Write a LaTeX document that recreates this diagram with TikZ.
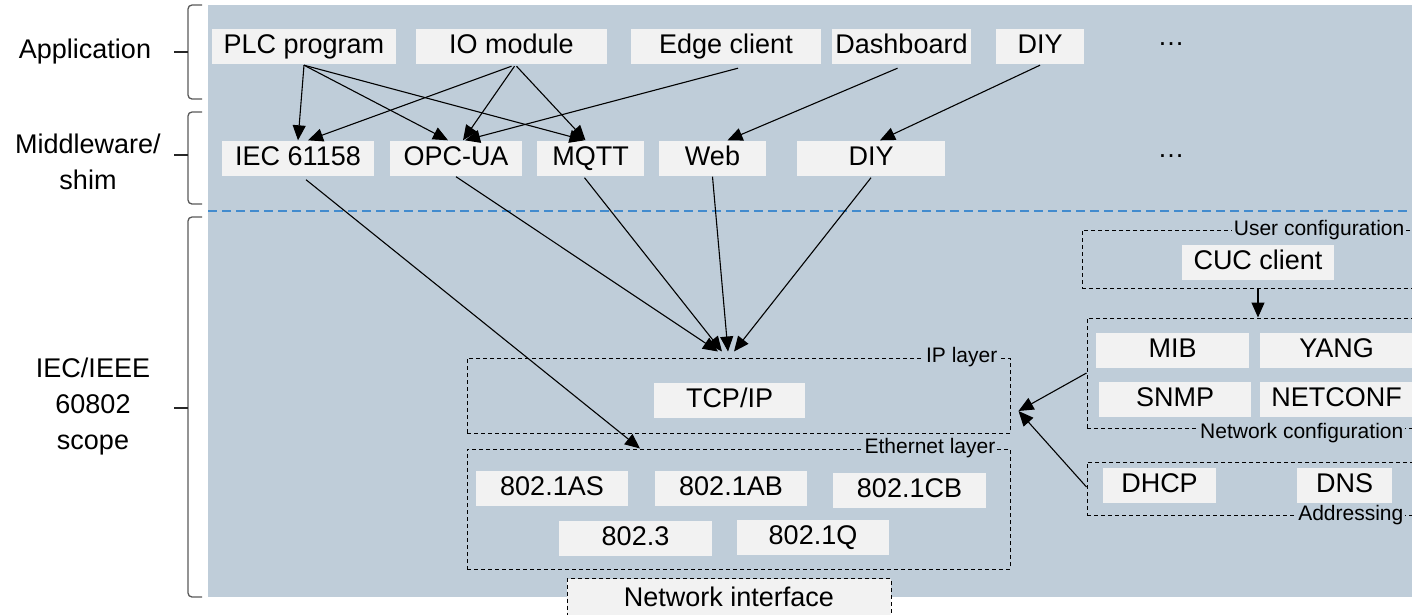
\documentclass[tikz,border=0pt]{standalone}
\usepackage{fontspec}
\setmainfont{Liberation Sans}
\usepackage{tikz}
\usetikzlibrary{arrows.meta,positioning}
\definecolor{bgblue}{RGB}{191,205,217}
\definecolor{boxgray}{RGB}{242,242,242}
\definecolor{lineblue}{RGB}{66,139,206}

\begin{document}
\begin{tikzpicture}[x=1pt,y=-1pt,
            stdbox/.style={fill=boxgray,inner sep=0pt,minimum height=35pt,text height=20pt,text depth=6pt,font=\fontsize{27pt}{32pt}\selectfont},
            grp/.style={draw,dash pattern=on 4pt off 3pt,line width=1pt,inner sep=0pt},
            grplbl/.style={fill=bgblue,inner sep=2pt,font=\fontsize{21pt}{25pt}\selectfont},
            conn/.style={-{Triangle[length=15pt,width=13pt]},line width=1.1pt},
            side/.style={align=center,font=\fontsize{27pt}{36pt}\selectfont},
            brc/.style={draw=black!65,line width=1.3pt,rounded corners=4pt}]
            \useasboundingbox (0,0) rectangle (1412,614);
            \clip (0,0) rectangle (1412,614);
            \fill[bgblue] (208,5) rectangle (1412,597);
            \draw[lineblue,dash pattern=on 9pt off 5pt,line width=1.5pt] (208,211) -- (1412,211);

            \foreach \t/\m/\b in {5/52/99,112/155/204,217/408/597}{
                \draw[brc] (202,\t) -- (188,\t) -- (188,\b) -- (202,\b);
                \draw[draw=black!85,line width=1.8pt] (174,\m) -- (188,\m);
            }
            \node [side] (app) at (85,52) {Application};
            \node [side] (mid) at (88,162) {Middleware/\\shim};
            \node [side] (scp) at (93,407) {IEC/IEEE\\60802\\scope};

            \node [stdbox,minimum width=184pt] (plc) at (304,46.5) {PLC program};
            \node [stdbox,minimum width=191pt] (io) at (511.5,46.5) {IO module};
            \node [stdbox,minimum width=190pt] (edge) at (726,46.5) {Edge client};
            \node [stdbox,minimum width=139pt] (dash) at (901.5,46.5) {Dashboard};
            \node [stdbox,minimum width=88pt] (diya) at (1040,46.5) {DIY};
            \node [side] (dotsa) at (1171,44) {\dots};

            \node [stdbox,minimum width=152pt] (iec) at (298,158) {IEC 61158};
            \node [stdbox,minimum width=132pt] (opc) at (456,158) {OPC-UA};
            \node [stdbox,minimum width=107pt] (mqtt) at (590.5,158) {MQTT};
            \node [stdbox,minimum width=107pt] (web) at (712.5,158) {Web};
            \node [stdbox,minimum width=148pt] (diyb) at (871,158) {DIY};
            \node [side] (dotsb) at (1171,156) {\dots};

            \node [grp,minimum width=543pt,minimum height=75pt] (ipl) at (738.5,395.5) {};
            \node [grplbl,anchor=east] (ipl-t) at ([xshift=-11pt]ipl.north east) {IP layer};
            \node [stdbox,minimum width=151pt] (tcp) at (729.5,400.5) {TCP/IP};

            \node [grp,minimum width=543pt,minimum height=120pt] (eth) at (738.5,509) {};
            \node [grplbl,anchor=east] (eth-t) at ([xshift=-13pt]eth.north east) {Ethernet layer};
            \node [stdbox,minimum width=152pt] (as) at (552,488.5) {802.1AS};
            \node [stdbox,minimum width=152pt] (ab) at (731,488.5) {802.1AB};
            \node [stdbox,minimum width=153pt] (cb) at (909.5,490) {802.1CB};
            \node [stdbox,minimum width=153pt] (p3) at (635.5,538.5) {802.3};
            \node [stdbox,minimum width=152pt] (q) at (813,537.5) {802.1Q};

            \node [grp,fill=boxgray,minimum width=324pt,minimum height=60pt,anchor=north] (nif) at (729,578) {};
            \node [side] (nif-t) at (729,597) {Network interface};

            \node [grp,minimum width=338pt,minimum height=58pt] (user) at (1251,259) {};
            \node [grplbl,anchor=east] (user-t) at ([xshift=-14pt,yshift=-1pt]user.north east) {User configuration};
            \node [stdbox,minimum width=152pt] (cuc) at (1258,262.5) {CUC client};

            \node [grp,minimum width=333pt,minimum height=110pt] (ncfg) at (1253.5,373) {};
            \node [grplbl,anchor=east] (ncfg-t) at ([xshift=-15pt,yshift=-5pt]ncfg.south east) {Network configuration};
            \node [stdbox,minimum width=153pt] (mib) at (1172.5,350.5) {MIB};
            \node [stdbox,minimum width=153pt] (yang) at (1336.5,350.5) {YANG};
            \node [stdbox,minimum width=152pt] (snmp) at (1175,399) {SNMP};
            \node [stdbox,minimum width=153pt] (ncf) at (1336.5,399) {NETCONF};

            \node [grp,minimum width=333pt,minimum height=53pt] (addr) at (1253.5,488.5) {};
            \node [grplbl,anchor=east] (addr-t) at ([xshift=-15pt]addr.south east) {Addressing};
            \node [stdbox,minimum width=113pt] (dhcp) at (1159.5,485.5) {DHCP};
            \node [stdbox,minimum width=95pt] (dns) at (1344.5,485.5) {DNS};

            \draw[conn] ([yshift=-1pt]plc.south) -- (iec.north);
            \draw[conn] ([yshift=-1pt]plc.south) -- ([xshift=-8pt]opc.north);
            \draw[conn] ([yshift=-1pt]plc.south) -- ([xshift=-6pt]mqtt.north);
            \draw[conn] ([yshift=-2pt]io.south) -- ([xshift=10pt]iec.north);
            \draw[conn] ([xshift=3pt,yshift=-2pt]io.south) -- ([xshift=7pt]opc.north);
            \draw[conn] ([xshift=5pt,yshift=-2pt]io.south) -- ([xshift=-5pt]mqtt.north);
            \draw[conn] ([xshift=12pt,yshift=-4pt]edge.south) -- ([xshift=9pt]opc.north);
            \draw[conn] ([xshift=-4pt,yshift=-4pt]dash.south) -- ([xshift=15pt]web.north);
            \draw[conn] ([yshift=-1pt]diya.south) -- ([xshift=9pt]diyb.north);

            \draw[conn] ([xshift=8pt,yshift=-4pt]iec.south) -- ([xshift=-98.5pt]eth.north);
            \draw[conn] ([yshift=-1pt]opc.south) -- ([xshift=-20.5pt,yshift=6pt]ipl.north);
            \draw[conn] ([xshift=-6pt,yshift=-2pt]mqtt.south) -- ([xshift=-16.5pt,yshift=6pt]ipl.north);
            \draw[conn] ([yshift=-1pt]web.south) -- ([xshift=-10.5pt,yshift=6pt]ipl.north);
            \draw[conn] ([yshift=-2pt]diyb.south) -- ([xshift=-4.5pt,yshift=6pt]ipl.north);

            \draw[conn] (cuc |- user.south) -- (cuc |- ncfg.north);
            \draw[conn] (ncfg.west) -- ([xshift=8pt,yshift=-15.5pt]ipl.east);
            \draw[conn] ([yshift=1.5pt]addr.west) -- ([xshift=8pt,yshift=-15.5pt]ipl.east);
\end{tikzpicture}
\end{document}
